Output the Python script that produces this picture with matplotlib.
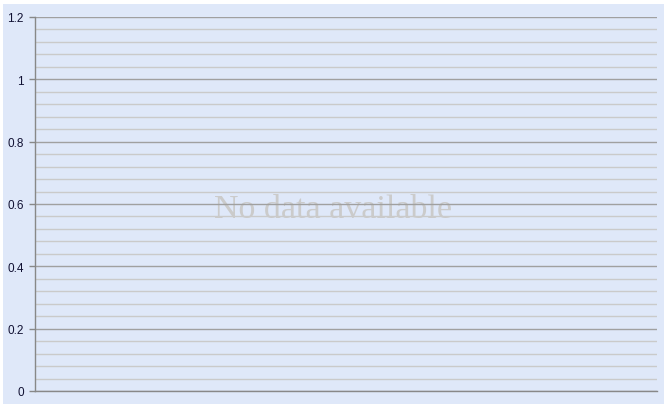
import numpy as np
import matplotlib
matplotlib.use('Agg')
import matplotlib.pyplot as plt
from matplotlib.patches import Rectangle

# no series in this chart, only the empty y axis
categories = []
values = []
y_ticks = [0, 0.2, 0.4, 0.6, 0.8, 1, 1.2]
y_tick_labels = ['0', '0.2', '0.4', '0.6', '0.8', '1', '1.2']
y_minor = np.arange(0, 1.2001, 0.04)
message = 'No data available'

W, H = 668, 410
fig = plt.figure(figsize=(W / 100, H / 100), dpi=100)
fig.patch.set_facecolor('white')

bg = '#dfe8f9'
fig.patches.append(Rectangle((3 / W, 5 / H), 661 / W, 400 / H,
                             transform=fig.transFigure, facecolor=bg,
                             edgecolor='none', zorder=-10))

ax = fig.add_axes([35 / W, (H - 392) / H, (657 - 35) / W, (392 - 18) / H])
ax.set_facecolor(bg)
ax.plot(categories, values)
ax.set_ylim(0, 1.2)
ax.set_xlim(0, 1)

ax.set_yticks(y_ticks)
ax.set_yticklabels(y_tick_labels, fontsize=8.5, color='#111133',
                   family='Liberation Sans')
ax.set_yticks(y_minor, minor=True)
ax.tick_params(axis='y', which='major', length=4, width=1, color='#888888', pad=4)
ax.tick_params(axis='y', which='minor', length=0)
ax.set_xticks([])

for y in y_minor:
    if any(abs(y - t) < 1e-6 for t in y_ticks):
        ax.axhline(y, color='#a0a0a0', lw=1, zorder=2)
    else:
        ax.axhline(y, color='#cacaca', lw=1, zorder=2)

for s in ['top', 'right']:
    ax.spines[s].set_visible(False)
ax.spines['left'].set_color('#888888')
ax.spines['bottom'].set_color('#888888')
ax.spines['left'].set_linewidth(1)
ax.spines['bottom'].set_linewidth(1)

# message sits under the grid lines, as in the reference
ax.text(333 / W, (H - 210) / H, message, transform=fig.transFigure,
        ha='center', va='center', fontsize=24.5, color='#cbcbcb',
        family='Liberation Serif', zorder=1)

fig.savefig('out.png', dpi=100, facecolor=fig.get_facecolor())
